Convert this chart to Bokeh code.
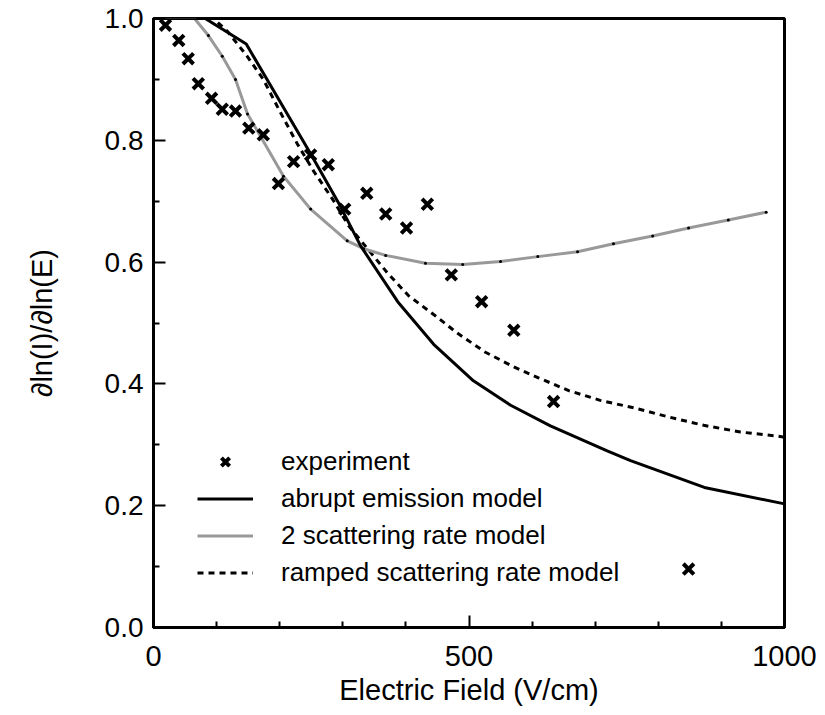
from bokeh.plotting import figure
from bokeh.models import Range1d, FixedTicker, Legend, LegendItem, CustomJSTickFormatter
from bokeh.embed import file_html
from bokeh.resources import INLINE

# ---- data ----
exp_field = [19, 40, 55, 71, 92, 109, 130, 151, 174, 198, 222, 249, 277, 303,
             338, 368, 401, 434, 472, 520, 571, 634, 848]
exp_slope = [0.989, 0.964, 0.934, 0.893, 0.869, 0.851, 0.848, 0.820, 0.809, 0.729,
             0.765, 0.776, 0.760, 0.687, 0.713, 0.679, 0.656, 0.695, 0.579, 0.535,
             0.488, 0.371, 0.096]

abrupt_field = [0, 82, 147, 249, 296, 328, 387, 444, 507, 566, 629, 719, 756, 873, 1000]
abrupt_slope = [1.0, 1.0, 0.958, 0.778, 0.692, 0.627, 0.535, 0.465, 0.405, 0.365,
                0.331, 0.290, 0.274, 0.230, 0.203]

two_rate_field = [0, 65, 87, 109, 130, 149, 170, 206, 249, 307, 333, 368, 431, 490,
                  550, 609, 672, 729, 791, 848, 911, 971]
two_rate_slope = [1.0, 1.0, 0.972, 0.938, 0.900, 0.843, 0.806, 0.741, 0.687, 0.635,
                  0.622, 0.611, 0.598, 0.596, 0.601, 0.609, 0.617, 0.630, 0.643,
                  0.656, 0.669, 0.682]

ramped_field = [0, 95, 117, 147, 174, 201, 228, 254, 284, 309, 339, 371, 404, 444,
                482, 526, 571, 610, 658, 708, 764, 819, 872, 930, 990, 1010]
ramped_slope = [1.0, 1.0, 0.979, 0.940, 0.900, 0.846, 0.794, 0.749, 0.703, 0.660,
                0.622, 0.582, 0.545, 0.514, 0.483, 0.452, 0.428, 0.410, 0.389,
                0.373, 0.360, 0.345, 0.332, 0.321, 0.314, 0.311]

x_major = [0, 500, 1000]
x_minor = [100, 200, 300, 400, 600, 700, 800, 900]
y_major = [0.0, 0.2, 0.4, 0.6, 0.8, 1.0]
y_minor = [0.1, 0.3, 0.5, 0.7, 0.9]

FONT = "Liberation Sans"

p = figure(width=825, height=715, output_backend="svg", toolbar_location=None,
           x_range=Range1d(0, 1000), y_range=Range1d(0, 1),
           min_border_left=153, min_border_right=41, min_border_top=18,
           min_border_bottom=88)

p.grid.visible = False
p.background_fill_color = "white"
p.border_fill_color = "white"
p.outline_line_color = "black"
p.outline_line_width = 3

for ax in (p.xaxis[0], p.yaxis[0]):
    ax.axis_line_width = 3
    ax.major_tick_line_width = 2
    ax.minor_tick_line_width = 2
    ax.major_tick_in = 12
    ax.major_tick_out = 0
    ax.minor_tick_in = 6
    ax.minor_tick_out = 0
    ax.major_label_text_font = FONT
    ax.major_label_text_font_size = "29px"
    ax.major_label_text_color = "black"
    ax.axis_label_text_font = FONT
    ax.axis_label_text_font_size = "29px"
    ax.axis_label_text_font_style = "normal"
    ax.axis_label_text_color = "black"

p.yaxis[0].major_label_text_font_size = "28px"
p.xaxis[0].ticker = FixedTicker(ticks=x_major, minor_ticks=x_minor)
p.yaxis[0].ticker = FixedTicker(ticks=y_major, minor_ticks=y_minor)
p.yaxis[0].formatter = CustomJSTickFormatter(code="return tick.toFixed(1);")
p.xaxis[0].major_label_standoff = 18
p.yaxis[0].major_label_standoff = 10
p.xaxis[0].axis_label = "Electric Field (V/cm)"
p.yaxis[0].axis_label = "∂ln(I)/∂ln(E)"
p.xaxis[0].axis_label_standoff = 5
p.yaxis[0].axis_label_standoff = 44

r_ramped = p.line(ramped_field, ramped_slope, line_color="black", line_width=3,
                  line_dash="6 5")
r_two = p.line(two_rate_field, two_rate_slope, line_color="#999999", line_width=3)
p.scatter(two_rate_field[2:], two_rate_slope[2:], marker="circle", size=3,
          fill_color="black", line_color=None)
r_abrupt = p.line(abrupt_field, abrupt_slope, line_color="black", line_width=3)
r_exp = p.scatter(exp_field, exp_slope, marker="x", size=15, line_color="black",
                  line_width=4)

legend = Legend(items=[
    LegendItem(label="experiment", renderers=[r_exp]),
    LegendItem(label="abrupt emission model", renderers=[r_abrupt]),
    LegendItem(label="2 scattering rate model", renderers=[r_two]),
    LegendItem(label="ramped scattering rate model", renderers=[r_ramped]),
], location=(44, 39))
legend.label_text_font = FONT
legend.label_text_font_size = "26px"
legend.label_text_color = "black"
legend.glyph_width = 56
legend.glyph_height = 29
legend.label_height = 29
legend.spacing = 6
legend.padding = 0
legend.margin = 0
legend.label_standoff = 28
legend.border_line_alpha = 0
legend.background_fill_alpha = 0
p.add_layout(legend, "center")

open("out.html", "w").write(file_html(p, INLINE))
